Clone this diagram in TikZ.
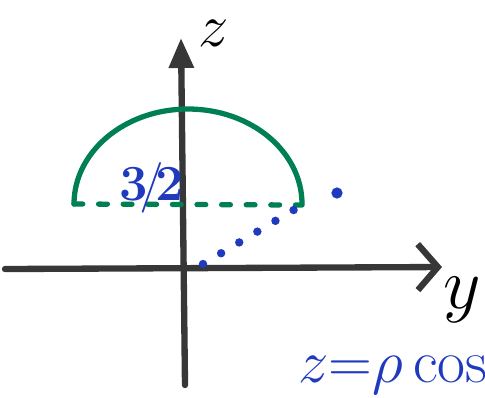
\documentclass[tikz,border=0pt]{standalone}
\usetikzlibrary{arrows.meta}
\definecolor{penblue}{RGB}{32,58,190}
\definecolor{pengreen}{RGB}{0,128,82}
\definecolor{pengray}{RGB}{55,55,55}
\tikzset{
  axis/.style={pengray, line width=1.8pt, line cap=round},
  bluedots/.style={penblue, line width=2.4pt, line cap=round, dash pattern=on 0pt off 6pt},
}
\begin{document}
\begin{tikzpicture}
			\useasboundingbox (0,0) rectangle (4.85,3.97);
			\coordinate (O) at (1.84,1.29);
			\coordinate (A) at (0.74,1.93);
			\coordinate (B) at (3.02,1.92);
			\coordinate (Z) at (1.81,3.59);
			\coordinate (Y) at (4.42,1.30);
			\draw[axis, -{Triangle[length=3mm,width=2.4mm]}] (1.85,0.12) -- (Z);
			\draw[axis, -{Straight Barb[length=2mm,width=4.6mm]}] (0.05,1.28) -- (Y);
			\node[font=\LARGE] (zlab) at (2.14,3.64) {$z$};
			\node[font=\fontsize{22}{24}\selectfont] (ylab) at (4.62,0.97) {$y$};
			\draw[pengreen, line width=1.5pt, line cap=round] (A) arc[start angle=180, end angle=0, x radius=1.14, y radius=0.95];
			\draw[pengreen, line width=1.5pt, line cap=round, dash pattern=on 2.5pt off 4.5pt] (A) -- (B);
			\draw[bluedots] (2.03,1.33) -- (B);
			\fill[penblue] (3.37,2.04) circle (1.6pt);
			\node[penblue, font=\Large] (ratio) at (1.52,2.09) {$\mathbf{3}\!/\!\mathbf{2}$};
			\node[penblue, anchor=west, font=\fontsize{18}{20}\selectfont] (eq) at (2.86,0.22) {$z{=}\rho\cos$};
		\end{tikzpicture}
\end{document}
